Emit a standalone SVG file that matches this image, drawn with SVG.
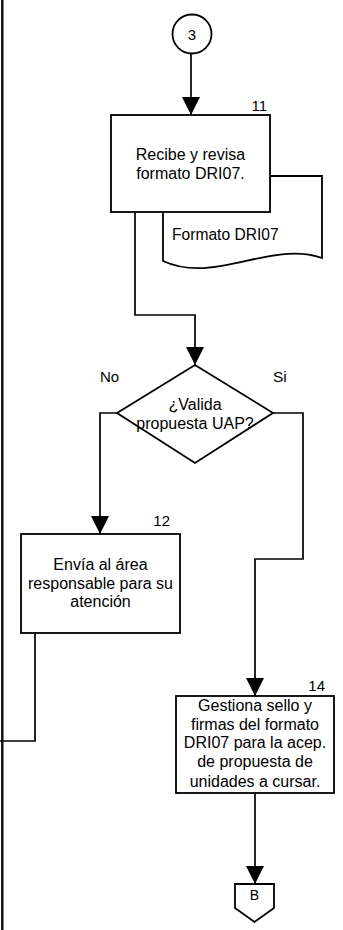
<svg xmlns="http://www.w3.org/2000/svg" width="343" height="930" viewBox="0 0 343 930">
<style>
  .shape { fill: #ffffff; stroke: #000000; stroke-width: 1.8; }
  .line { fill: none; stroke: #000000; stroke-width: 1.7; }
  .txt { font-family: "Liberation Sans", Arial, sans-serif; font-size: 16px; fill: #000000; text-anchor: middle; }
  .num { font-family: "Liberation Sans", Arial, sans-serif; font-size: 15px; fill: #000000; text-anchor: end; }
  .lbl { font-family: "Liberation Sans", Arial, sans-serif; font-size: 16px; fill: #000000; }
</style>
<defs>
  <marker id="arrow" viewBox="0 0 18 18" refX="18" refY="9" markerWidth="18" markerHeight="18" markerUnits="userSpaceOnUse" orient="auto">
    <path d="M0,0 L18,9 L0,18 Z" fill="#000000"/>
  </marker>
</defs>
<rect width="343" height="930" fill="#ffffff"/>
<g id="lane-border">
  <line x1="2.3" y1="0" x2="2.3" y2="930" stroke="#111111" stroke-width="2.5"/>
</g>
<g id="connectors">
  <line class="line" x1="191" y1="53" x2="191" y2="115" marker-end="url(#arrow)"/>
  <polyline class="line" points="135,212 135,315 195,315 195,365" marker-end="url(#arrow)"/>
  <polyline class="line" points="117,413 100,413 100,534" marker-end="url(#arrow)"/>
  <polyline class="line" points="273,413 303,413 303,559 255,559 255,696" marker-end="url(#arrow)"/>
  <polyline class="line" points="35,633 35,741 0,741"/>
  <line class="line" x1="255" y1="793" x2="255" y2="884" marker-end="url(#arrow)"/>
</g>
<g id="connector-3">
  <circle class="shape" cx="192" cy="34" r="19.5"/>
  <text class="txt" x="192" y="39.5" style="font-size:15px">3</text>
</g>
<g id="document-formato">
  <path class="shape" d="M163,200 L270,200 L270,176 L322,176 L322,258 C270,240 215,285 163,261 Z"/>
  <text class="lbl" x="172" y="240" style="font-size:15.6px">Formato DRI07</text>
</g>
<g id="step-11">
  <rect class="shape" x="111" y="115" width="159" height="97"/>
  <text class="num" x="267" y="111">11</text>
  <text class="txt" x="190.5" y="160">Recibe y revisa</text>
  <text class="txt" x="190.5" y="178.5">formato DRI07.</text>
</g>
<g id="decision">
  <polygon class="shape" points="195,365 273,413 195,463 117,413"/>
  <text class="txt" x="195" y="409.5">¿Valida</text>
  <text class="txt" x="195" y="428.5">propuesta UAP?</text>
  <text class="lbl" x="100" y="382" style="font-size:15px">No</text>
  <text class="lbl" x="273" y="382" style="font-size:15.5px">Si</text>
</g>
<g id="step-12">
  <rect class="shape" x="21" y="534" width="159" height="99"/>
  <text class="num" x="170" y="526">12</text>
  <text class="txt" x="100.5" y="569.5">Envía al área</text>
  <text class="txt" x="100.5" y="588.5">responsable para su</text>
  <text class="txt" x="100.5" y="607">atención</text>
</g>
<g id="step-14">
  <rect class="shape" x="176" y="696" width="158" height="97"/>
  <text class="num" x="325" y="691">14</text>
  <text class="txt" x="255" y="711">Gestiona sello y</text>
  <text class="txt" x="255" y="729.5">firmas del formato</text>
  <text class="txt" x="255" y="748">DRI07 para la acep.</text>
  <text class="txt" x="255" y="767">de propuesta de</text>
  <text class="txt" x="255" y="786.5">unidades a cursar.</text>
</g>
<g id="offpage-B">
  <polygon class="shape" points="235,884 274,884 274,908 254.5,922 235,908"/>
  <text class="txt" x="254.5" y="899.5" style="font-size:14px">B</text>
</g>
</svg>
